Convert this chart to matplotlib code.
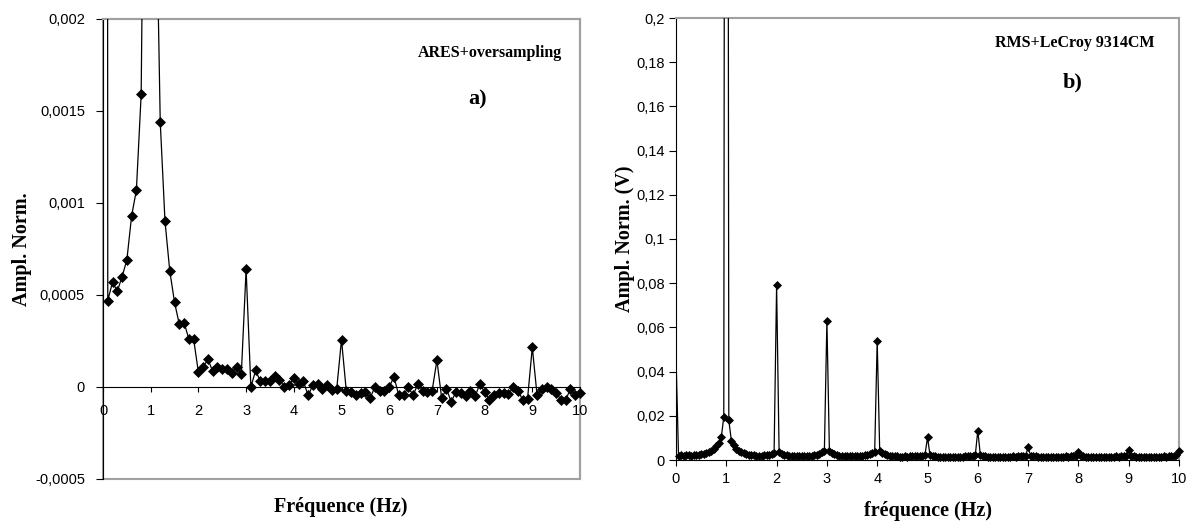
import numpy as np
import matplotlib
matplotlib.use("Agg")
import matplotlib.pyplot as plt
from matplotlib.ticker import FuncFormatter
from matplotlib.patches import Rectangle

# ---------------- data ----------------
# Panel a) ARES + oversampling, spectrum sampled every 0.1 Hz from 0 to 10 Hz
step_a = 0.1
ampl_a = [
    0.05, 0.00047, 0.00057, 0.00052, 0.00060, 0.00069, 0.00093, 0.00107, 0.00159, 0.0042,
    1.0, 0.0029, 0.00144, 0.00090, 0.00063, 0.00046, 0.00034, 0.00035, 0.00026, 0.00026,
    0.00008, 0.00011, 0.00015, 0.000085, 0.00011, 0.00010, 0.00010, 0.000076, 0.00011, 0.00007,
    0.00064, 0.0, 0.00009, 0.00003, 0.00003, 0.00003, 0.00006, 0.00004, 0.0, 0.00001,
    0.00005, 0.000015, 0.00003, -0.000045, 0.00001, 0.000015, -0.00001, 0.00001, -0.000015, -0.00001,
    0.000257, -0.00002, -0.000027, -0.000045, -0.00003, -0.000027, -0.00006, 0.0, -0.00002, -0.00002,
    0.0, 0.000055, -0.000045, -0.000045, 0.0, -0.000045, 0.000015, -0.00002, -0.000027, -0.00002,
    0.000145, -0.00006, -0.00001, -0.00008, -0.000027, -0.00003, -0.00005, -0.00002, -0.00005, 0.000015,
    -0.000027, -0.00007, -0.000045, -0.00003, -0.00003, -0.00004, 0.0, -0.00002, -0.00007, -0.000065,
    0.000216, -0.000045, -0.00001, 0.0, -0.00001, -0.00003, -0.00007, -0.00007, -0.00001, -0.000045,
    -0.00003,
]

# Panel b) RMS + LeCroy 9314CM, spectrum sampled every 0.05 Hz from 0 to 10 Hz
step_b = 0.05
ampl_b = [
    # 0.00 - 0.95
    0.047, 0.0020, 0.0022, 0.0019, 0.0021, 0.0022, 0.0020, 0.0022, 0.0023, 0.0024,
    0.0026, 0.0028, 0.0031, 0.0036, 0.0042, 0.0050, 0.0062, 0.0078, 0.0102, 0.0195,
    # 1.00 - 1.95
    1.0, 0.0180, 0.0088, 0.0068, 0.0052, 0.0042, 0.0035, 0.0030, 0.0026, 0.0024,
    0.0022, 0.0021, 0.0020, 0.0019, 0.0020, 0.0021, 0.0022, 0.0024, 0.0027, 0.0033,
    # 2.00 - 2.95
    0.0790, 0.0034, 0.0027, 0.0023, 0.0021, 0.0020, 0.0019, 0.0018, 0.0018, 0.0017,
    0.0017, 0.0018, 0.0018, 0.0019, 0.0020, 0.0022, 0.0024, 0.0028, 0.0034, 0.0042,
    # 3.00 - 3.95
    0.0630, 0.0040, 0.0030, 0.0025, 0.0021, 0.0019, 0.0018, 0.0017, 0.0017, 0.0016,
    0.0016, 0.0017, 0.0017, 0.0018, 0.0019, 0.0021, 0.0023, 0.0027, 0.0032, 0.0038,
    # 4.00 - 4.95
    0.0540, 0.0040, 0.0031, 0.0025, 0.0021, 0.0019, 0.0017, 0.0016, 0.0016, 0.0015,
    0.0015, 0.0016, 0.0015, 0.0016, 0.0016, 0.0017, 0.0017, 0.0018, 0.0019, 0.0024,
    # 5.00 - 5.95
    0.0102, 0.0022, 0.0018, 0.0016, 0.0015, 0.0015, 0.0014, 0.0015, 0.0015, 0.0014,
    0.0015, 0.0015, 0.0014, 0.0015, 0.0015, 0.0016, 0.0016, 0.0017, 0.0018, 0.0022,
    # 6.00 - 6.95
    0.0133, 0.0024, 0.0018, 0.0016, 0.0015, 0.0015, 0.0014, 0.0015, 0.0014, 0.0015,
    0.0015, 0.0014, 0.0015, 0.0015, 0.0016, 0.0015, 0.0016, 0.0017, 0.0018, 0.0020,
    # 7.00 - 7.95
    0.0057, 0.0020, 0.0017, 0.0016, 0.0015, 0.0015, 0.0014, 0.0015, 0.0015, 0.0014,
    0.0015, 0.0014, 0.0015, 0.0015, 0.0015, 0.0016, 0.0015, 0.0016, 0.0017, 0.0019,
    # 8.00 - 8.95
    0.0035, 0.0019, 0.0016, 0.0015, 0.0015, 0.0014, 0.0015, 0.0014, 0.0015, 0.0015,
    0.0014, 0.0015, 0.0015, 0.0014, 0.0015, 0.0016, 0.0015, 0.0016, 0.0017, 0.0019,
    # 9.00 - 9.95
    0.0045, 0.0019, 0.0016, 0.0015, 0.0014, 0.0015, 0.0015, 0.0014, 0.0015, 0.0014,
    0.0015, 0.0015, 0.0014, 0.0015, 0.0016, 0.0015, 0.0016, 0.0017, 0.0018, 0.0021,
    # 10.00
    0.0040,
]

xticks = [0, 1, 2, 3, 4, 5, 6, 7, 8, 9, 10]
yticks_a = [-0.0005, 0, 0.0005, 0.001, 0.0015, 0.002]
yticks_b = [0, 0.02, 0.04, 0.06, 0.08, 0.1, 0.12, 0.14, 0.16, 0.18, 0.2]

title_a = "ARES+oversampling"
title_b = "RMS+LeCroy 9314CM"
tag_a = "a)"
tag_b = "b)"
xlabel_a = "Fréquence (Hz)"
xlabel_b = "fréquence (Hz)"
ylabel_a = "Ampl. Norm."
ylabel_b = "Ampl. Norm. (V)"

# ---------------- figure ----------------
W, H = 1189, 525
fig = plt.figure(figsize=(W / 100, H / 100), dpi=100)
fig.patch.set_facecolor("white")

SERIF = ["Liberation Serif", "DejaVu Serif"]
SANS = ["Liberation Sans", "DejaVu Sans"]
GRAY = "#a0a0a0"


def comma_fmt(v, pos):
    if abs(v) < 1e-12:
        return "0"
    return ("%g" % v).replace(".", ",")


def px_axes(l, t, r, b):
    return [l / W, 1 - b / H, (r - l) / W, (b - t) / H]


def draw_series(ax, step, vals, ytop, ms):
    vals = np.asarray(vals, dtype=float)
    x = np.arange(len(vals)) * step
    ax.plot(x, vals, color="black", lw=0.9, zorder=3)
    mvals = np.ma.masked_greater(vals, ytop)
    mvals[0] = np.ma.masked  # the DC point shows no marker in the original
    ax.plot(x, mvals, ls="none", marker="D", ms=ms, mfc="black", mec="black",
            mew=0.5, zorder=4, clip_on=False)


# ---- panel a ----
axa = fig.add_axes(px_axes(103, 19, 580, 479))
axa.set_xlim(0, 10)
axa.set_ylim(-0.0005, 0.002)
draw_series(axa, step_a, ampl_a, 0.002, 5.0)
axa.spines["bottom"].set_position(("data", 0))
axa.spines["bottom"].set_color("black")
axa.spines["left"].set_color("black")
for s in ("top", "right"):
    axa.spines[s].set_color(GRAY)
    axa.spines[s].set_linewidth(1.5)
axa.add_patch(Rectangle((0, 0), 1, 1, transform=axa.transAxes, fill=False,
                        edgecolor=GRAY, lw=1.5, zorder=0, clip_on=False))
axa.set_xticks(xticks)
axa.set_yticks(yticks_a)
axa.xaxis.set_major_formatter(FuncFormatter(comma_fmt))
axa.yaxis.set_major_formatter(FuncFormatter(comma_fmt))
axa.tick_params(axis="x", direction="out", length=3.5, pad=8.5, labelsize=10.5)
axa.tick_params(axis="y", direction="out", length=5, pad=8, labelsize=10.5)
axa.xaxis.set_zorder(5)
for lab in axa.get_xticklabels() + axa.get_yticklabels():
    lab.set_family(SANS)

# ---- panel b ----
axb = fig.add_axes(px_axes(676, 18, 1179, 460))
axb.set_xlim(0, 10)
axb.set_ylim(0, 0.2)
draw_series(axb, step_b, ampl_b, 0.2, 4.5)
axb.spines["bottom"].set_color("black")
axb.spines["left"].set_color("black")
for s in ("top", "right"):
    axb.spines[s].set_color(GRAY)
    axb.spines[s].set_linewidth(1.5)
axb.set_xticks(xticks)
axb.set_yticks(yticks_b)
axb.xaxis.set_major_formatter(FuncFormatter(comma_fmt))
axb.yaxis.set_major_formatter(FuncFormatter(comma_fmt))
axb.tick_params(axis="x", direction="out", length=4, pad=4.5, labelsize=10.5)
axb.tick_params(axis="y", direction="out", length=5, pad=3, labelsize=10.5)
for lab in axb.get_xticklabels() + axb.get_yticklabels():
    lab.set_family(SANS)

# ---- texts ----
def ftext(x, y, s, size, **kw):
    fig.text(x / W, 1 - y / H, s, fontsize=size, family=SERIF, weight="bold",
             ha="center", va="center", **kw)

ftext(341, 507, xlabel_a, 14.5)
ftext(928, 511, xlabel_b, 14.5)
ftext(22, 249, ylabel_a, 14.5, rotation=90)
ftext(625, 239, ylabel_b, 14.5, rotation=90)
ftext(490, 53, title_a, 11.5)
ftext(478, 99, tag_a, 16)
ftext(1075, 43, title_b, 11.5)
ftext(1073, 82, tag_b, 16)

fig.savefig("out.png", dpi=100, facecolor="white")
